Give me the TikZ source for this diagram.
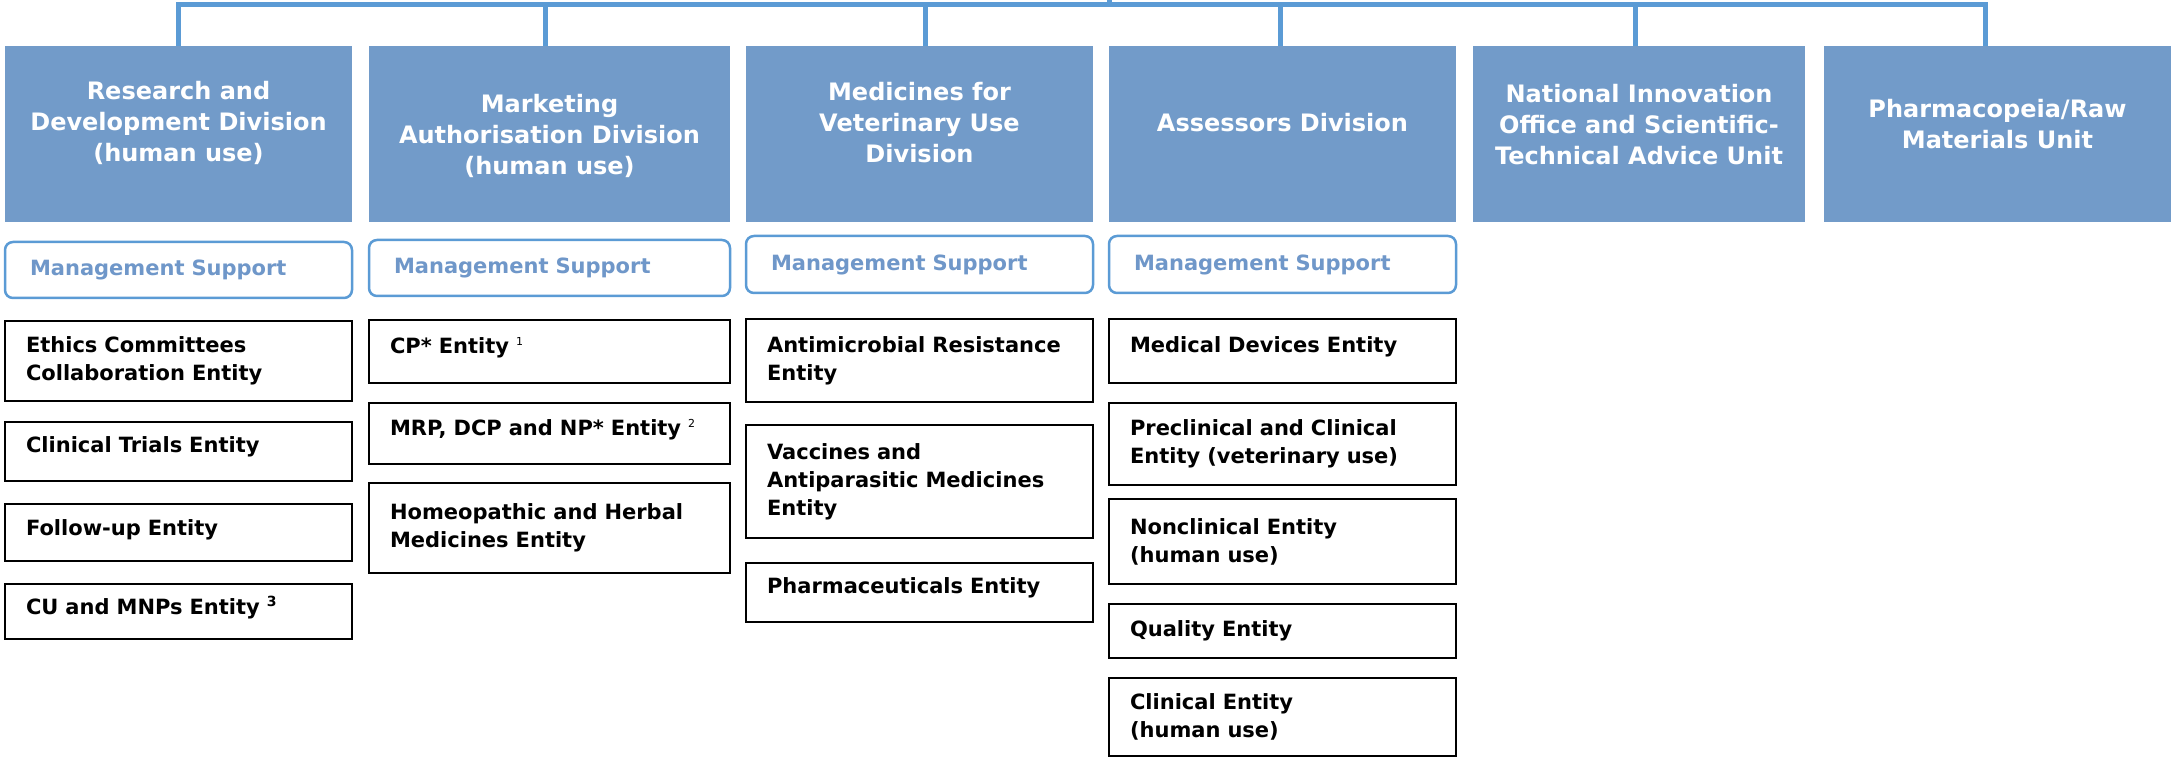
\documentclass[tikz,border=0pt]{standalone}
\usepackage{fontspec}
\setmainfont{DejaVu Sans}
\definecolor{divfill}{HTML}{729BC9}
\definecolor{busblue}{HTML}{5B9BD5}
\definecolor{mstext}{HTML}{6F97C9}
\newcommand{\supsmall}[1]{\raisebox{8pt}{\fontsize{11}{11}\selectfont\mdseries #1}}
\newcommand{\supbig}[1]{\raisebox{8pt}{\fontsize{14}{14}\selectfont\bfseries #1}}
\begin{document}
\begin{tikzpicture}[x=1pt,y=-1pt,
  div/.style={rectangle, fill=divfill, draw=none, inner sep=0pt, minimum height=176pt},
  divtext/.style={text=white, font=\fontsize{24}{31}\selectfont\bfseries, align=center, inner sep=0pt},
  ms/.style={rectangle, rounded corners=8pt, draw=busblue, line width=2.5pt, fill=white, inner xsep=25pt, inner ysep=0pt, text=mstext, font=\fontsize{21}{28}\selectfont\bfseries, align=left},
  ent/.style={rectangle, draw=black, line width=2.6pt, inner xsep=21pt, inner ysep=0pt, font=\fontsize{21}{28}\selectfont\bfseries, align=left},
  liftup/.style={text depth=13pt},
  bus/.style={draw=busblue, line width=5pt}
]
\useasboundingbox (0,0) rectangle (2174,759);

% division headers
\node[div, minimum width=347pt] (r1) at (178.5,134) {};
\node[div, minimum width=361pt] (r2) at (549.5,134) {};
\node[div, minimum width=347pt] (r3) at (919.5,134) {};
\node[div, minimum width=347pt] (r4) at (1282.5,134) {};
\node[div, minimum width=332pt] (r5) at (1639,134.5) {};
\node[div, minimum width=347pt] (r6) at (1997.5,134) {};

\node[divtext] (t1) at ([yshift=11pt]r1.center) {Research and\\Development Division\\(human use)};
\node[divtext] (t2) at ([yshift=-2pt]r2.center) {Marketing\\Authorisation Division\\(human use)};
\node[divtext] (t3) at ([yshift=11pt]r3.center) {Medicines for\\Veterinary Use\\Division};
\node[divtext] (t4) at ([yshift=11pt]r4.center) {Assessors Division};
\node[divtext] (t5) at ([yshift=10pt]r5.center) {National Innovation\\Office and Scientific-\\Technical Advice Unit};
\node[divtext] (t6) at ([yshift=10pt]r6.center) {Pharmacopeia/Raw\\Materials Unit};

% bus
\coordinate (top) at (1109,0);
\coordinate (busR) at (1985,4.5);
\draw[bus] (r1.north) |- (busR) -- (busR |- r6.north);
\draw[bus] ([xshift=-4.5pt]r2.north) -- ([xshift=-4.5pt]r2.north |- busR);
\draw[bus] ([xshift=5.5pt]r3.north) -- ([xshift=5.5pt]r3.north |- busR);
\draw[bus] ([xshift=-2.5pt]r4.north) -- ([xshift=-2.5pt]r4.north |- busR);
\draw[bus] ([xshift=-4pt]r5.north) -- ([xshift=-4pt]r5.north |- busR);
\draw[bus] (top) -- (top |- busR);

% management support
\node[ms, text width=297pt, minimum height=56pt] (m1) at (178.5,270) {Management Support};
\node[ms, text width=311pt, minimum height=56pt] (m2) at (549.5,268) {Management Support};
\node[ms, text width=297pt, minimum height=57pt] (m3) at (919.5,264.5) {Management Support};
\node[ms, text width=297pt, minimum height=57pt] (m4) at (1282.5,264.5) {Management Support};

% column 1
\node[ent, text width=305pt, minimum height=80pt] (a1) at (178.5,361) {Ethics Committees\\Collaboration Entity};
\node[ent, liftup, text width=305pt, minimum height=59pt] (a2) at (178.5,451.5) {Clinical Trials Entity};
\node[ent, text width=305pt, text depth=10pt, minimum height=57pt] (a3) at (178.5,532.5) {Follow-up Entity};
\node[ent, liftup, text width=305pt, minimum height=55pt] (a4) at (178.5,611.5) {CU and MNPs Entity \supbig{3}};

% column 2
\node[ent, liftup, text width=319pt, minimum height=63pt] (b1) at (549.5,351.5) {CP* Entity \supsmall{1}};
\node[ent, liftup, text width=319pt, minimum height=61pt] (b2) at (549.5,433.5) {MRP, DCP and NP* Entity \supsmall{2}};
\node[ent, text width=319pt, minimum height=90pt] (b3) at (549.5,528) {Homeopathic and Herbal\\Medicines Entity};

% column 3
\node[ent, text width=305pt, minimum height=83pt] (c1) at (919.5,360.5) {Antimicrobial Resistance\\Entity};
\node[ent, text width=305pt, minimum height=113pt] (c2) at (919.5,481.5) {Vaccines and\\Antiparasitic Medicines\\Entity};
\node[ent, liftup, text width=305pt, minimum height=59pt] (c3) at (919.5,592.5) {Pharmaceuticals Entity};

% column 4
\node[ent, liftup, text width=305pt, minimum height=64pt] (d1) at (1282.5,351) {Medical Devices Entity};
\node[ent, text width=305pt, minimum height=82pt] (d2) at (1282.5,444) {Preclinical and Clinical\\Entity (veterinary use)};
\node[ent, text width=305pt, minimum height=85pt] (d3) at (1282.5,541.5) {Nonclinical Entity\\(human use)};
\node[ent, text width=305pt, minimum height=54pt] (d4) at (1282.5,631) {Quality Entity};
\node[ent, text width=305pt, minimum height=78pt] (d5) at (1282.5,717) {Clinical Entity\\(human use)};
\end{tikzpicture}
\end{document}
